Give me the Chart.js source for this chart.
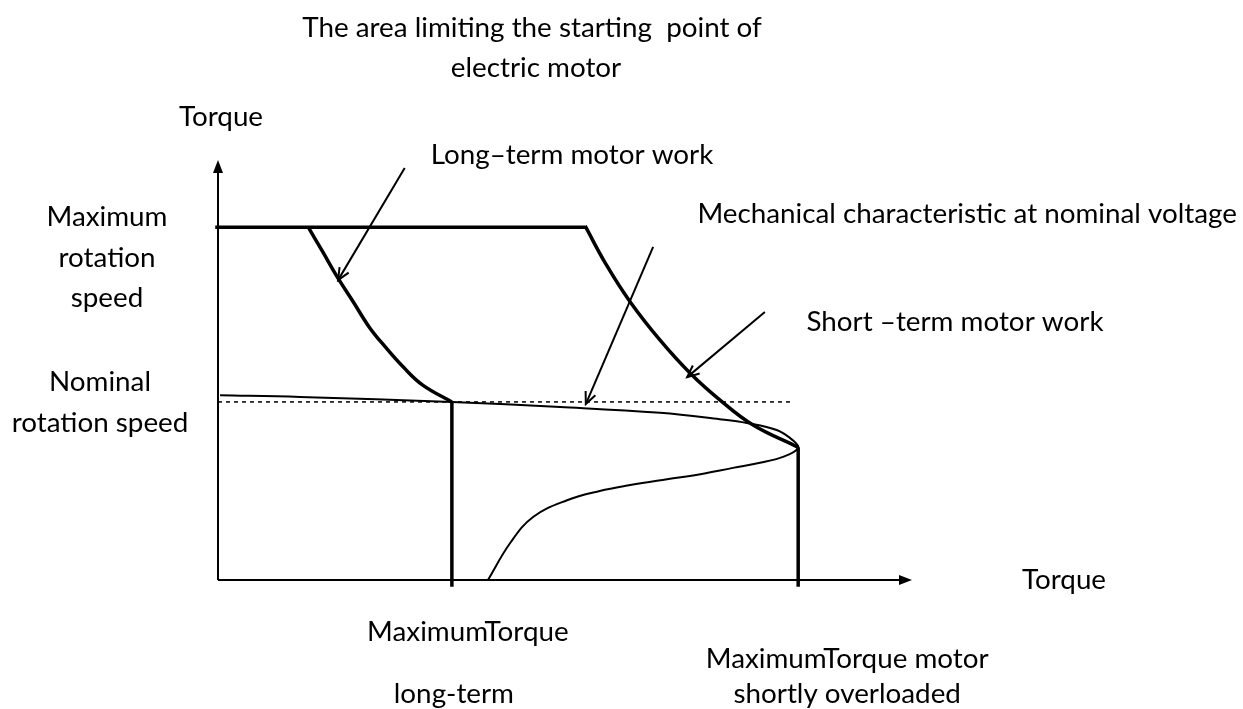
<!DOCTYPE html>
<html>
<head>
<meta charset="utf-8">
<style>
  html, body { margin: 0; padding: 0; background: #fff; }
  #wrap { width: 1243px; height: 709px; }
</style>
</head>
<body>
<div id="wrap"><canvas id="motorChart" width="1243" height="709"></canvas></div>
<script src="https://cdn.jsdelivr.net/npm/chart.js@4.4.1/dist/chart.umd.min.js"></script>
<script>
// torque on x, rotation speed on y, both as % of the drawn axis length
const maxSpeed = 84.0;
const nominalSpeed = 42.4;
const longTermTorque = 33.7;
const shortTermTorque = 83.6;

const topLimitX = [-0.4, 52.9];
const longTermX = [13.0, 15.1, 17.2, 19.5, 21.8, 24.1, 26.7, 29.5, 33.7];
const longTermY = [84.0, 78.1, 72.1, 66.2, 60.2, 55.5, 50.7, 46.4, 42.4];
const shortTermX = [52.9, 55.9, 59.4, 63.7, 68.0, 72.3, 77.1, 83.6];
const shortTermY = [84.3, 75.2, 66.2, 57.1, 49.3, 42.9, 36.9, 31.6];
const nominalLineX = [0, 82.7];

// mechanical characteristic at nominal voltage (upper branch, nose, lower branch)
const mechX = [0.3, 11.8, 33.7, 49.3, 63.7, 72.3, 76.2, 80.5, 82.8, 83.6, 81.4, 78.1, 74.2, 69.5, 64.7, 59.4, 55.0, 50.3, 45.4, 42.1, 38.9];
const mechY = [44.0, 43.6, 42.4, 41.2, 39.8, 38.3, 37.4, 35.7, 33.3, 31.4, 29.3, 27.9, 26.7, 25.2, 24.0, 22.6, 21.2, 19.0, 15.0, 8.8, 0];

// pointer arrows: [fromX, fromY, toX, toY]
const longTermArrow = [26.9, 98.1, 17.3, 71.4];
const mechArrow = [62.7, 79.3, 53.0, 41.9];
const shortTermArrow = [78.8, 63.8, 67.6, 48.3];

// texts
const titleLines = ['The area limiting the starting  point of', 'electric motor'];
const axisTitles = ['Torque', 'Torque'];
const speedLabels = [['Maximum', 'rotation', 'speed'], ['Nominal', 'rotation speed']];
const torqueLabels = [['MaximumTorque', 'long-term'], ['MaximumTorque motor', 'shortly overloaded']];
const noteLabels = ['Long\u2013term motor work', 'Mechanical characteristic at nominal voltage', 'Short \u2013term motor work'];

function pts(xs, ys) {
    return xs.map((x, i) => ({ x: x, y: ys[i] }));
}

function line(data, width, extra) {
    return Object.assign({
        data: data,
        showLine: true,
        borderColor: '#000',
        borderWidth: width,
        pointRadius: 0,
        fill: false,
        tension: 0,
        clip: false
    }, extra || {});
}

function arrowLine(a) {
    return line(pts([a[0], a[2]], [a[1], a[3]]), 2, { arrow: true });
}

const decorPlugin = {
    id: 'decor',
    afterDatasetsDraw(chart) {
        const ctx = chart.ctx;
        const area = chart.chartArea;
        ctx.save();
        ctx.strokeStyle = '#000';
        ctx.fillStyle = '#000';

        // axes with filled arrow tips
        ctx.lineWidth = 2;
        ctx.beginPath();
        ctx.moveTo(area.left, area.bottom);
        ctx.lineTo(area.left, area.top + 8);
        ctx.moveTo(area.left, area.bottom);
        ctx.lineTo(area.right - 8, area.bottom);
        ctx.stroke();
        ctx.beginPath();
        ctx.moveTo(area.left, area.top);
        ctx.lineTo(area.left - 5, area.top + 13);
        ctx.lineTo(area.left + 5, area.top + 13);
        ctx.closePath();
        ctx.fill();
        ctx.beginPath();
        ctx.moveTo(area.right, area.bottom);
        ctx.lineTo(area.right - 13, area.bottom - 5);
        ctx.lineTo(area.right - 13, area.bottom + 5);
        ctx.closePath();
        ctx.fill();

        // open arrow heads on the pointer lines
        ctx.lineWidth = 2;
        chart.data.datasets.forEach((ds, i) => {
            if (!ds.arrow) return;
            const meta = chart.getDatasetMeta(i);
            const p0 = meta.data[0], p1 = meta.data[1];
            const ang = Math.atan2(p1.y - p0.y, p1.x - p0.x);
            const len = 13, spread = 0.42;
            ctx.beginPath();
            ctx.moveTo(p1.x - len * Math.cos(ang - spread), p1.y - len * Math.sin(ang - spread));
            ctx.lineTo(p1.x, p1.y);
            ctx.lineTo(p1.x - len * Math.cos(ang + spread), p1.y - len * Math.sin(ang + spread));
            ctx.stroke();
        });

        // labels
        const fam = 'Lato, "Open Sans", sans-serif';
        ctx.font = '27px ' + fam;
        const size = 27 * 540 / ctx.measureText(noteLabels[1]).width;
        ctx.font = size.toFixed(1) + 'px ' + fam;
        ctx.textBaseline = 'middle';
        ctx.textAlign = 'center';
        const x = chart.scales.x, y = chart.scales.y;

        ctx.fillText(titleLines[0], 532, 28);
        ctx.fillText(titleLines[1], 536, 68);
        ctx.fillText(axisTitles[0], area.left + 3, 117);
        ctx.fillText(axisTitles[1], 1064, area.bottom);
        ctx.fillText(noteLabels[0], 572, 155);
        ctx.textAlign = 'right';
        ctx.fillText(noteLabels[1], 1237, y.getPixelForValue(maxSpeed) - 13);
        ctx.textAlign = 'center';
        ctx.fillText(noteLabels[2], 955, 322);

        const maxPx = y.getPixelForValue(maxSpeed);
        speedLabels[0].forEach((t, k) => ctx.fillText(t, 107, maxPx - 10 + k * 40.5));
        const nomPx = y.getPixelForValue(nominalSpeed);
        speedLabels[1].forEach((t, k) => ctx.fillText(t, 100, nomPx - 20 + k * 41));

        ctx.fillText(torqueLabels[0][0], x.getPixelForValue(longTermTorque) + 16, 632);
        ctx.fillText(torqueLabels[0][1], x.getPixelForValue(longTermTorque) + 2, 694);
        ctx.fillText(torqueLabels[1][0], x.getPixelForValue(shortTermTorque) + 49, 659);
        ctx.fillText(torqueLabels[1][1], x.getPixelForValue(shortTermTorque) + 49, 694);
        ctx.restore();
    }
};

new Chart(document.getElementById('motorChart'), {
    type: 'scatter',
    data: {
        datasets: [
            line(pts(topLimitX, [maxSpeed, maxSpeed]), 3.5),
            line(pts(longTermX, longTermY), 3.5, { tension: 0.4 }),
            line(pts([longTermTorque, longTermTorque], [nominalSpeed, -1.6]), 3.5),
            line(pts(shortTermX, shortTermY), 3.5, { tension: 0.4 }),
            line(pts([shortTermTorque, shortTermTorque], [31.6, -1.6]), 3.5),
            line(pts(nominalLineX, [nominalSpeed, nominalSpeed]), 1.5, { borderDash: [4, 4] }),
            line(pts(mechX, mechY), 2, { tension: 0.4 }),
            arrowLine(longTermArrow),
            arrowLine(mechArrow),
            arrowLine(shortTermArrow)
        ]
    },
    options: {
        responsive: false,
        animation: false,
        devicePixelRatio: 1,
        layout: {
            padding: { left: 218, right: 331, top: 160, bottom: 129 }
        },
        plugins: {
            legend: { display: false },
            tooltip: { enabled: false }
        },
        scales: {
            x: { type: 'linear', min: 0, max: 100, display: false },
            y: { type: 'linear', min: 0, max: 100, display: false }
        }
    },
    plugins: [decorPlugin]
});
</script>
</body>
</html>
